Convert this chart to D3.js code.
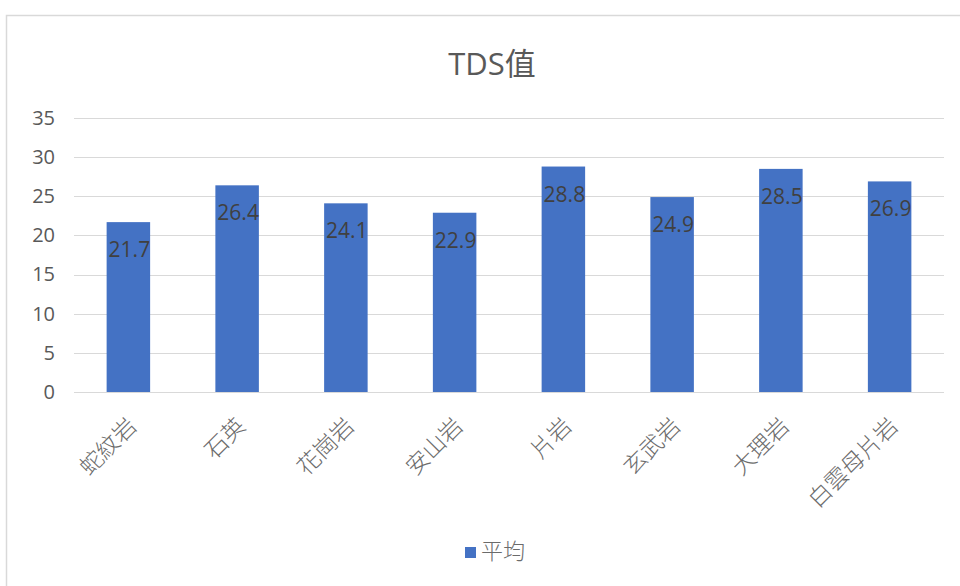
<!DOCTYPE html>
<html>
<head>
<meta charset="utf-8">
<script src="https://cdn.jsdelivr.net/npm/d3@7"></script>
<style>
  body { margin: 0; background: #fff; }
  text { font-family: "Open Sans", "Noto Sans CJK TC", sans-serif; }
</style>
</head>
<body>
<svg id="chart"></svg>
<script>
// chart data
var categories = ["蛇紋岩", "石英", "花崗岩", "安山岩", "片岩", "玄武岩", "大理岩", "白雲母片岩"];
var values = [21.7, 26.4, 24.1, 22.9, 28.8, 24.9, 28.5, 26.9];
var yTicks = [0, 5, 10, 15, 20, 25, 30, 35];
var seriesName = "平均";
var title = "TDS值";

var width = 960, height = 586;
var margin = {left: 74, right: 16, top: 118, bottom: 194};
var svg = d3.select("#chart").attr("width", width).attr("height", height);

// outer chart border (left and top visible)
svg.append("path")
    .attr("d", "M6.5," + height + "V15.5H" + width)
    .attr("fill", "none")
    .attr("stroke", "#d9d9d9")
    .attr("stroke-width", 1.5);

var x = d3.scaleBand()
    .domain(categories)
    .range([margin.left, width - margin.right])
    .paddingInner(0.6).paddingOuter(0.3);

var y = d3.scaleLinear()
    .domain([0, 35])
    .range([height - margin.bottom, margin.top]);

// gridlines
svg.append("g")
    .selectAll("line")
    .data(yTicks)
    .enter()
    .append("line")
    .attr("x1", margin.left)
    .attr("x2", width - margin.right)
    .attr("y1", function(d){return Math.round(y(d)) + 0.5})
    .attr("y2", function(d){return Math.round(y(d)) + 0.5})
    .attr("stroke", "#d9d9d9")
    .attr("stroke-width", 1.2);

// y axis labels
var yAxis = d3.axisLeft(y).tickValues(yTicks).tickSize(0).tickPadding(0);
var yg = svg.append("g")
    .attr("transform", "translate(" + (margin.left - 19) + ",0)")
    .call(yAxis);
yg.select(".domain").remove();
yg.selectAll("text")
    .attr("fill", "#595959")
    .style("font-family", "'Open Sans', sans-serif")
    .style("font-size", "20px");

// bars
svg.append("g")
    .selectAll("rect")
    .data(values)
    .enter()
    .append("rect")
    .attr("x", function(d,i){return x(categories[i])})
    .attr("y", function(d){return y(d)})
    .attr("width", x.bandwidth())
    .attr("height", function(d){return y(0) - y(d)})
    .attr("fill", "#4472c4");

// data labels inside top of bar
svg.append("g")
    .selectAll("text")
    .data(values)
    .enter()
    .append("text")
    .attr("x", function(d,i){return x(categories[i]) + x.bandwidth()/2 + 1})
    .attr("y", function(d){return y(d) + 35})
    .attr("text-anchor", "middle")
    .attr("fill", "#404040")
    .style("font-size", "21px")
    .text(function(d){return d.toFixed(1)});

// x axis labels rotated
var xAxis = d3.axisBottom(x).tickSize(0).tickPadding(0);
var xg = svg.append("g")
    .attr("transform", "translate(0," + y(0) + ")")
    .call(xAxis);
xg.select(".domain").remove();
xg.selectAll("text")
    .attr("fill", "#6b6b6b")
    .style("font-family", "'Noto Sans CJK TC', sans-serif")
    .style("font-weight", "300")
    .style("font-size", "23px")
    .attr("text-anchor", "end")
    .attr("dy", "0.35em")
    .attr("transform", "translate(4,30) rotate(-45)");

// title
svg.append("text")
    .attr("x", 492)
    .attr("y", 75)
    .attr("text-anchor", "middle")
    .attr("fill", "#595959")
    .style("font-size", "31px")
    .text(title);

// legend
svg.append("rect")
    .attr("x", 465)
    .attr("y", 547)
    .attr("width", 11)
    .attr("height", 11)
    .attr("fill", "#4472c4");
svg.append("text")
    .attr("x", 481)
    .attr("y", 553)
    .attr("dominant-baseline", "middle")
    .attr("fill", "#6b6b6b")
    .style("font-family", "'Noto Sans CJK TC', sans-serif")
    .style("font-weight", "300")
    .style("font-size", "22px")
    .text(seriesName);
</script>
</body>
</html>
